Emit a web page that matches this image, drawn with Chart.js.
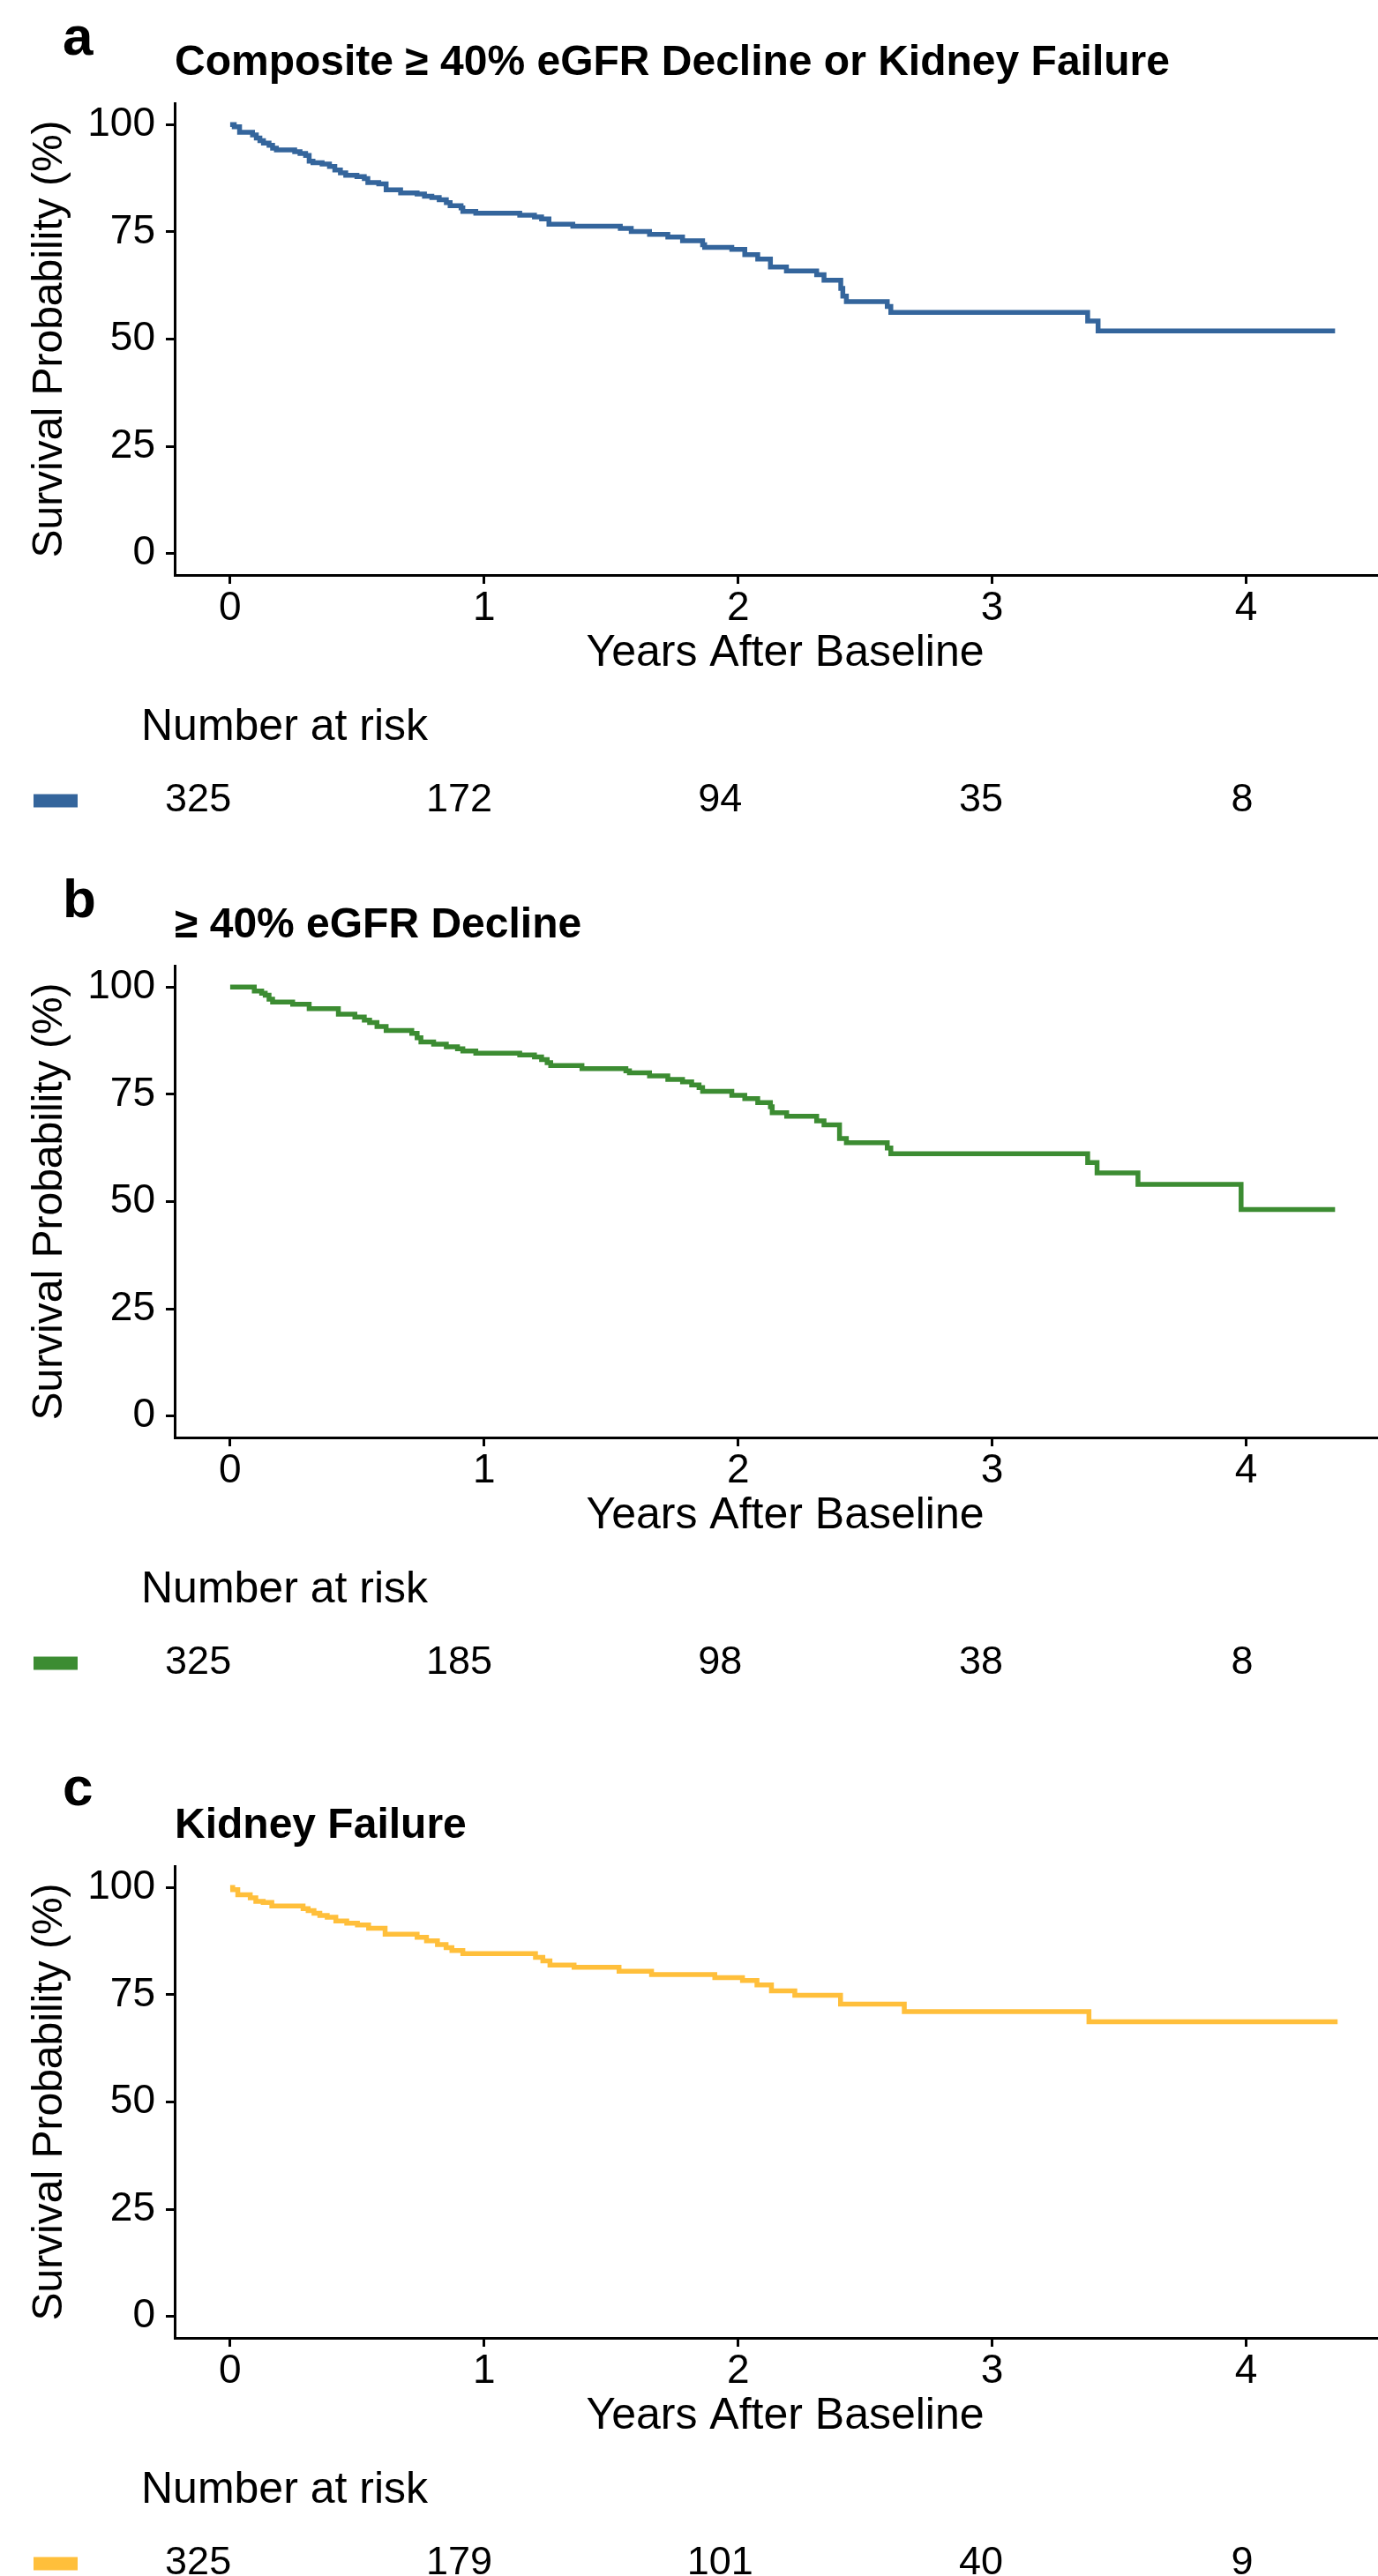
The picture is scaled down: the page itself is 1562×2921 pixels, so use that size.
<!DOCTYPE html>
<html>
<head>
<meta charset="utf-8">
<title>Kaplan-Meier survival panels</title>
<script src="https://cdn.jsdelivr.net/npm/chart.js@4.4.1/dist/chart.umd.min.js"></script>
<style>
  html, body { margin: 0; padding: 0; background: #fff; }
  body { width: 1562px; height: 2921px; overflow: hidden; position: relative; }
  .panel { position: absolute; left: 0; width: 1600px; height: 975px; }
  .panel canvas { position: absolute; left: 0; }
</style>
</head>
<body>
<div id="figure"></div>
<script>
// Valeurs
const xTicks = [0, 1, 2, 3, 4];
const yTicks = [0, 25, 50, 75, 100];
const riskTimes = [0, 1, 2, 3, 4];

// a : composite
const timesA = [0, 0.016, 0.037, 0.088, 0.103, 0.117, 0.131, 0.153, 0.167, 0.182, 0.254, 0.275, 0.297, 0.311,
  0.326, 0.362, 0.391, 0.412, 0.434, 0.455, 0.499, 0.528, 0.542, 0.585, 0.614, 0.671, 0.736, 0.765, 0.794,
  0.823, 0.851, 0.866, 0.909, 0.916, 0.967, 1.140, 1.198, 1.226, 1.255, 1.349, 1.536, 1.579, 1.651, 1.723,
  1.781, 1.860, 1.868, 1.975, 2.026, 2.077, 2.127, 2.190, 2.309, 2.338, 2.404, 2.412, 2.426, 2.587, 2.601,
  3.376, 3.417, 4.35];
const survA = [100, 99.5, 98.2, 97.6, 96.9, 96.25, 95.7, 95.2, 94.5, 94.1, 93.7, 93.3, 92.8, 91.5,
  91.1, 90.8, 90.25, 89.4, 88.75, 88.2, 87.9, 87.4, 86.5, 86.2, 84.8, 84.1, 83.8, 83.3, 83.0,
  82.5, 81.8, 81.1, 80.6, 79.75, 79.35, 78.9, 78.5, 78.0, 76.8, 76.3, 75.8, 75.1, 74.4, 73.8,
  72.9, 72.0, 71.4, 70.9, 69.7, 68.65, 66.8, 65.9, 65.0, 63.7, 61.8, 60.0, 58.75, 57.6, 56.2,
  54.2, 51.9, 51.9];
const riskA = [325, 172, 94, 35, 8];

// b : declin du DFG
const timesB = [0, 0.095, 0.124, 0.138, 0.153, 0.167, 0.246, 0.311, 0.426, 0.491, 0.528, 0.549, 0.578, 0.614,
  0.715, 0.736, 0.751, 0.801, 0.851, 0.895, 0.916, 0.967, 1.140, 1.198, 1.226, 1.248, 1.262, 1.385, 1.558,
  1.572, 1.651, 1.723, 1.781, 1.817, 1.846, 1.860, 1.975, 2.026, 2.077, 2.127, 2.134, 2.191, 2.309, 2.338,
  2.399, 2.426, 2.587, 2.601, 3.376, 3.413, 3.574, 3.98, 4.35];
const survB = [100, 99.1, 98.6, 98.1, 97.2, 96.5, 96.0, 95.0, 93.7, 93.0, 92.3, 91.75, 90.8, 89.9,
  89.2, 88.2, 87.2, 86.7, 86.1, 85.6, 85.1, 84.6, 84.2, 83.7, 83.1, 82.4, 81.7, 81.0, 80.5,
  80.0, 79.3, 78.5, 77.9, 77.2, 76.6, 75.7, 74.8, 74.0, 73.1, 72.1, 70.7, 69.9, 68.8, 67.9,
  64.7, 63.7, 62.5, 61.15, 59.1, 56.7, 54.0, 48.15, 48.15];
const riskB = [325, 185, 98, 38, 8];

// c : insuffisance renale
const timesC = [0, 0.010, 0.030, 0.079, 0.101, 0.130, 0.164, 0.287, 0.307, 0.330, 0.353, 0.382, 0.416, 0.459,
  0.501, 0.545, 0.610, 0.736, 0.773, 0.816, 0.850, 0.873, 0.916, 1.202, 1.231, 1.259, 1.354, 1.531, 1.659,
  1.908, 2.017, 2.074, 2.131, 2.223, 2.403, 2.654, 3.381, 4.36];
const survC = [100, 99.5, 98.3, 97.6, 96.8, 96.5, 95.7, 95.1, 94.6, 94.0, 93.5, 93.05, 92.2, 91.7,
  91.3, 90.5, 89.1, 88.4, 87.6, 86.7, 86.0, 85.3, 84.6, 83.7, 82.9, 81.9, 81.4, 80.5, 79.7,
  79.0, 78.3, 77.3, 75.9, 74.9, 72.8, 71.1, 68.7, 68.7];
const riskC = [325, 179, 101, 40, 9];

const FONT = "'Liberation Sans', Arial, sans-serif";
const X_MIN = -0.2185, X_MAX = 4.5885;

const panels = [
  { letter: 'a', top: 0, letterY: 62, title: 'Composite \u2265 40% eGFR Decline or Kidney Failure',
    color: '#34659C', times: timesA, surv: survA, risk: riskA },
  { letter: 'b', top: 978, letterY: 62, title: '\u2265 40% eGFR Decline',
    color: '#3C8C32', times: timesB, surv: survB, risk: riskB },
  { letter: 'c', top: 1999, letterY: 48, title: 'Kidney Failure',
    color: '#FFBF3B', times: timesC, surv: survC, risk: riskC }
];

function axisStyle() {
  return {
    grid: { drawOnChartArea: false, drawTicks: true, tickLength: 10, tickWidth: 3, tickColor: '#000' },
    border: { display: true, color: '#000', width: 3 }
  };
}

function buildPanel(p) {
  const wrap = document.createElement('div');
  wrap.className = 'panel';
  wrap.style.top = p.top + 'px';
  const km = document.createElement('canvas');
  km.width = 1600; km.height = 775;
  km.style.top = '0px';
  const rk = document.createElement('canvas');
  rk.width = 1600; rk.height = 185;
  rk.style.top = '775px';
  wrap.appendChild(km);
  wrap.appendChild(rk);
  document.getElementById('figure').appendChild(wrap);

  // lettre du panneau
  const letterPlugin = {
    id: 'panelLetter',
    afterDraw(chart) {
      const ctx = chart.ctx;
      ctx.save();
      ctx.font = 'bold 62px ' + FONT;
      ctx.fillStyle = '#000';
      ctx.textBaseline = 'alphabetic';
      ctx.fillText(p.letter, 71, p.letterY);
      ctx.restore();
    }
  };

  new Chart(km, {
    type: 'line',
    data: {
      datasets: [{
        data: p.times.map((t, i) => ({ x: t, y: p.surv[i] })),
        borderColor: p.color,
        borderWidth: 5.5,
        stepped: 'before',
        pointRadius: 0,
        fill: false
      }]
    },
    options: {
      responsive: false,
      animation: false,
      layout: { padding: { top: 0, left: 0, right: 18, bottom: 3 } },
      plugins: {
        legend: { display: false },
        tooltip: { enabled: false },
        title: {
          display: true, text: p.title, align: 'start', fullSize: false, color: '#000',
          font: { family: FONT, size: 48, weight: 'bold', lineHeight: 1 },
          padding: { top: 48, bottom: 21 }
        }
      },
      scales: {
        x: Object.assign(axisStyle(), {
          type: 'linear', min: X_MIN, max: X_MAX,
          afterBuildTicks: s => { s.ticks = xTicks.map(v => ({ value: v })); },
          afterFit: s => { s.height = 120; },
          ticks: { color: '#000', font: { family: FONT, size: 46, lineHeight: 1 }, padding: 5, maxRotation: 0 },
          title: { display: true, text: 'Years After Baseline', color: '#000',
            font: { family: FONT, size: 50, lineHeight: 1 }, padding: { top: 0, bottom: 6 } }
        }),
        y: Object.assign(axisStyle(), {
          min: -5, max: 105,
          afterBuildTicks: s => { s.ticks = yTicks.map(v => ({ value: v })); },
          afterFit: s => { s.width = 198; },
          ticks: { color: '#000', font: { family: FONT, size: 46, lineHeight: 1 }, padding: 12 },
          title: { display: true, text: 'Survival Probability (%)', color: '#000',
            font: { family: FONT, size: 48, lineHeight: 1 }, padding: { top: 33, bottom: 0 } }
        })
      }
    },
    plugins: [letterPlugin]
  });

  // tableau des effectifs a risque
  const riskPlugin = {
    id: 'riskTable',
    afterDatasetsDraw(chart) {
      const ctx = chart.ctx;
      const meta = chart.getDatasetMeta(0);
      ctx.save();
      ctx.font = '45px ' + FONT;
      ctx.fillStyle = '#000';
      ctx.textAlign = 'center';
      ctx.textBaseline = 'middle';
      meta.data.forEach((pt, i) => ctx.fillText(String(p.risk[i]), pt.x, pt.y));
      const yMid = meta.data[0].y;
      ctx.fillStyle = p.color;
      ctx.fillRect(38, yMid - 7.5, 50, 15);
      ctx.restore();
    }
  };

  new Chart(rk, {
    type: 'scatter',
    data: {
      datasets: [{ data: riskTimes.map(t => ({ x: t, y: 0 })), pointRadius: 0, showLine: false }]
    },
    options: {
      responsive: false,
      animation: false,
      layout: { padding: { top: 0, left: 160, right: 18, bottom: 9 } },
      plugins: {
        legend: { display: false },
        tooltip: { enabled: false },
        title: {
          display: true, text: 'Number at risk', align: 'start', fullSize: false, color: '#000',
          font: { family: FONT, size: 50, weight: 'normal', lineHeight: 1 },
          padding: { top: 25, bottom: 15 }
        }
      },
      scales: {
        x: { type: 'linear', min: X_MIN, max: X_MAX, display: false },
        y: { min: -1, max: 1, display: false }
      }
    },
    plugins: [riskPlugin]
  });
}

panels.forEach(buildPanel);
</script>
</body>
</html>
